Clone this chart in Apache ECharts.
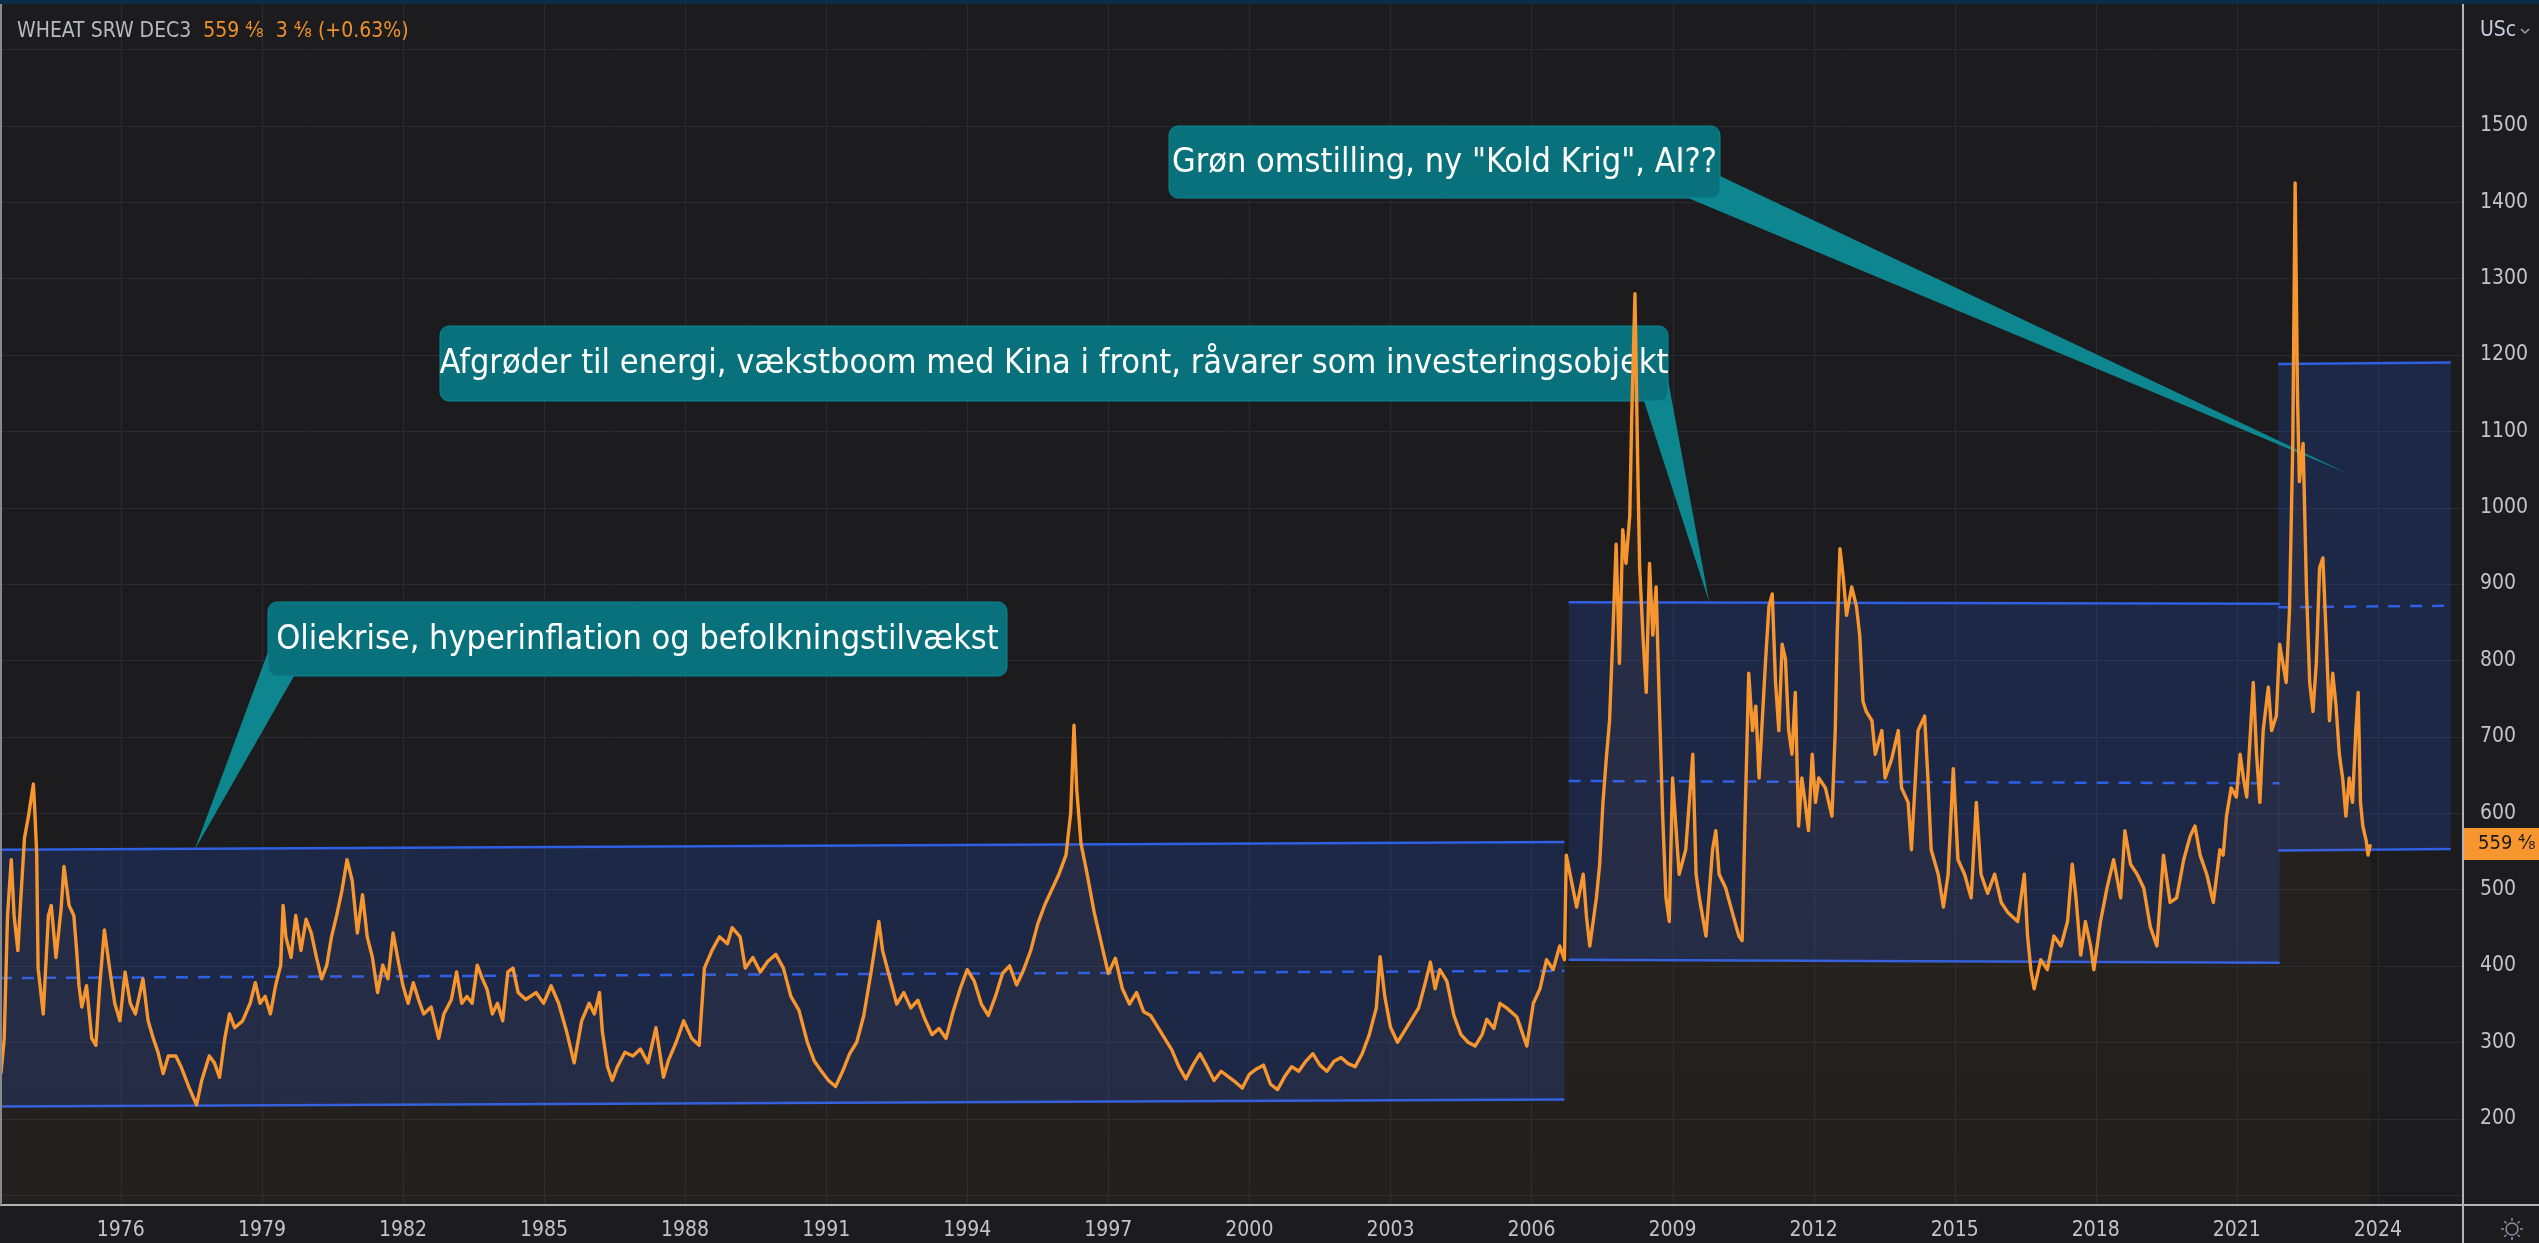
<!DOCTYPE html>
<html>
<head>
<meta charset="utf-8">
<title>WHEAT SRW DEC3</title>
<script src="https://cdn.jsdelivr.net/npm/echarts@6/dist/echarts.min.js"></script>
<style>
  html, body { margin: 0; padding: 0; background: #1c1c1e; }
  #chart { width: 2539px; height: 1243px; }
</style>
</head>
<body>
<div id="chart"></div>
<script>
// akse-ticks
const yearTicks = [1976, 1979, 1982, 1985, 1988, 1991, 1994, 1997, 2000, 2003, 2006, 2009, 2012, 2015, 2018, 2021, 2024];
const priceTicks = [200, 300, 400, 500, 600, 700, 800, 900, 1000, 1100, 1200, 1300, 1400, 1500];
const gridPrices = [100, 200, 300, 400, 500, 600, 700, 800, 900, 1000, 1100, 1200, 1300, 1400, 1500, 1600];

// hvedepris (USc): [år, pris]
const wheat1973to1990 = [
  [1973.45,259],[1973.52,305],[1973.59,466],[1973.67,539],[1973.73,466],[1973.81,420],[1973.86,475],[1973.95,567],
  [1974.03,594],[1974.14,638],[1974.17,603],[1974.21,548],[1974.24,397],[1974.35,337],[1974.46,466],[1974.52,479],
  [1974.62,411],[1974.73,475],[1974.79,530],[1974.90,479],[1975.00,466],[1975.06,420],[1975.11,374],[1975.17,346],
  [1975.27,374],[1975.38,305],[1975.47,296],[1975.55,374],[1975.65,447],[1975.76,397],[1975.87,351],[1975.98,328],
  [1976.09,392],[1976.20,351],[1976.31,337],[1976.47,383],[1976.58,328],[1976.69,305],[1976.79,287],[1976.90,259],
  [1977.01,282],[1977.17,282],[1977.28,268],[1977.45,241],[1977.61,218],[1977.72,250],[1977.88,282],[1977.99,273],
  [1978.10,254],[1978.21,305],[1978.31,337],[1978.42,319],[1978.59,328],[1978.75,351],[1978.86,378],[1978.96,351],
  [1979.07,360],[1979.18,337],[1979.29,374],[1979.40,401],[1979.45,479],[1979.51,438],[1979.62,411],[1979.72,466],
  [1979.83,420],[1979.94,461],[1980.05,443],[1980.16,411],[1980.27,383],[1980.38,401],[1980.48,438],[1980.59,466],
  [1980.70,498],[1980.81,539],[1980.92,512],[1981.03,443],[1981.14,493],[1981.24,438],[1981.35,411],[1981.46,365],
  [1981.57,401],[1981.68,383],[1981.79,443],[1981.90,406],[1982.00,374],[1982.11,351],[1982.22,378],[1982.33,356],
  [1982.44,337],[1982.60,346],[1982.76,305],[1982.87,337],[1983.03,356],[1983.14,392],[1983.25,351],[1983.36,360],
  [1983.47,351],[1983.58,401],[1983.69,383],[1983.79,369],[1983.90,337],[1984.01,351],[1984.12,328],[1984.23,392],
  [1984.34,397],[1984.45,365],[1984.61,356],[1984.83,365],[1984.99,351],[1985.15,374],[1985.31,351],[1985.48,314],
  [1985.64,273],[1985.80,328],[1985.96,351],[1986.07,337],[1986.18,365],[1986.24,314],[1986.35,268],[1986.45,250],
  [1986.56,268],[1986.72,287],[1986.89,282],[1987.05,291],[1987.21,273],[1987.38,319],[1987.54,254],[1987.65,277],
  [1987.81,300],[1987.97,328],[1988.14,305],[1988.30,296],[1988.41,397],[1988.57,420],[1988.73,438],[1988.90,429],
  [1989.00,450],[1989.17,438],[1989.28,397],[1989.44,411],[1989.60,392],[1989.76,406],[1989.93,415],[1990.09,397],
  [1990.25,360],[1990.42,342]
];
const wheat1990to2005 = [
  [1990.60,300],[1990.75,275],[1990.90,262],[1991.05,250],[1991.20,242],[1991.35,262],[1991.50,285],[1991.65,300],
  [1991.80,335],[1991.95,390],[1992.05,430],[1992.12,458],[1992.20,420],[1992.35,385],[1992.50,350],[1992.65,365],
  [1992.80,345],[1992.95,355],[1993.10,330],[1993.25,310],[1993.40,318],[1993.55,305],[1993.70,340],[1993.85,370],
  [1994.00,395],[1994.15,380],[1994.30,350],[1994.45,335],[1994.60,360],[1994.75,390],[1994.90,400],[1995.05,375],
  [1995.20,395],[1995.35,420],[1995.50,455],[1995.65,480],[1995.80,500],[1995.95,520],[1996.10,545],[1996.20,600],
  [1996.27,715],[1996.33,630],[1996.42,560],[1996.55,520],[1996.70,470],[1996.85,430],[1997.00,390],[1997.15,410],
  [1997.30,370],[1997.45,350],[1997.60,365],[1997.75,340],[1997.90,335],[1998.05,320],[1998.20,305],[1998.35,290],
  [1998.50,268],[1998.65,252],[1998.80,270],[1998.95,285],[1999.10,268],[1999.25,250],[1999.40,262],[1999.55,255],
  [1999.70,248],[1999.85,240],[2000.00,258],[2000.15,265],[2000.30,270],[2000.45,245],[2000.60,238],[2000.75,255],
  [2000.90,268],[2001.05,262],[2001.20,275],[2001.35,285],[2001.50,270],[2001.65,262],[2001.80,275],[2001.95,280],
  [2002.10,272],[2002.25,268],[2002.40,285],[2002.55,310],[2002.70,345],[2002.78,412],[2002.88,360],[2003.00,320],
  [2003.15,300],[2003.30,315],[2003.45,330],[2003.60,345],[2003.75,380],[2003.85,405],[2003.95,370],[2004.05,395],
  [2004.20,380],[2004.35,335],[2004.50,310],[2004.65,300],[2004.80,295],[2004.95,310],[2005.05,330],[2005.20,318]
];
const wheat2005to2023 = [
  [2005.33,351],[2005.47,345],[2005.69,333],[2005.90,295],[2006.04,351],[2006.18,370],[2006.32,408],[2006.46,395],
  [2006.60,426],[2006.70,408],[2006.74,545],[2006.82,520],[2006.96,477],[2007.10,520],[2007.17,464],[2007.24,426],
  [2007.38,489],[2007.45,533],[2007.52,614],[2007.59,671],[2007.66,721],[2007.73,833],[2007.80,952],[2007.87,796],
  [2007.94,971],[2008.01,927],[2008.09,990],[2008.13,1115],[2008.20,1280],[2008.26,1053],[2008.30,921],[2008.37,833],
  [2008.44,758],[2008.51,927],[2008.58,833],[2008.65,896],[2008.72,740],[2008.79,596],[2008.86,489],[2008.93,458],
  [2009.00,646],[2009.07,583],[2009.14,520],[2009.28,552],[2009.43,677],[2009.50,520],[2009.57,489],[2009.71,439],
  [2009.85,552],[2009.92,577],[2009.99,520],[2010.13,502],[2010.27,470],[2010.41,439],[2010.48,433],[2010.55,614],
  [2010.62,783],[2010.70,708],[2010.77,740],[2010.84,646],[2010.98,802],[2011.05,871],[2011.12,887],[2011.19,771],
  [2011.26,708],[2011.33,821],[2011.40,802],[2011.47,708],[2011.54,677],[2011.61,758],[2011.68,583],[2011.75,646],
  [2011.82,614],[2011.89,577],[2011.97,677],[2012.04,614],[2012.11,646],[2012.25,633],[2012.39,596],[2012.46,708],
  [2012.50,833],[2012.56,946],[2012.63,909],[2012.70,859],[2012.81,896],[2012.91,871],[2012.98,833],[2013.05,746],
  [2013.12,733],[2013.24,721],[2013.31,677],[2013.45,708],[2013.52,646],[2013.66,671],[2013.80,708],[2013.87,633],
  [2014.01,614],[2014.08,552],[2014.22,708],[2014.36,727],[2014.43,646],[2014.50,552],[2014.65,520],[2014.76,477],
  [2014.86,520],[2014.97,658],[2015.07,539],[2015.21,520],[2015.35,489],[2015.46,614],[2015.56,520],[2015.70,495],
  [2015.85,520],[2015.99,483],[2016.13,470],[2016.34,458],[2016.48,520],[2016.55,439],[2016.62,395],[2016.69,370],
  [2016.83,408],[2016.97,395],[2017.11,439],[2017.26,426],[2017.40,458],[2017.50,533],[2017.58,489],[2017.68,414],
  [2017.78,458],[2017.89,426],[2017.96,395],[2018.10,458],[2018.24,502],[2018.38,539],[2018.53,489],[2018.62,577],
  [2018.74,533],[2018.88,520],[2019.02,502],[2019.16,451],[2019.30,426],[2019.44,545],[2019.58,483],[2019.72,489],
  [2019.87,539],[2020.01,570],[2020.11,583],[2020.22,545],[2020.36,520],[2020.50,483],[2020.64,552],[2020.71,545],
  [2020.78,596],[2020.88,633],[2020.99,621],[2021.07,677],[2021.14,646],[2021.21,621],[2021.35,771],[2021.42,677],
  [2021.49,614],[2021.56,708],[2021.67,765],[2021.74,708],[2021.84,727],[2021.91,821],[2021.98,796],[2022.05,771],
  [2022.12,865],[2022.19,1084],[2022.24,1425],[2022.29,1147],[2022.33,1034],[2022.41,1084],[2022.48,896],[2022.55,771],
  [2022.62,733],[2022.69,796],[2022.76,921],[2022.83,934],[2022.90,833],[2022.97,721],[2023.04,783],[2023.11,740],
  [2023.18,677],[2023.25,646],[2023.32,596],[2023.39,646],[2023.46,614],[2023.53,708],[2023.58,758],[2023.63,614],
  [2023.68,583],[2023.75,564],[2023.79,545],[2023.84,559]
];

// prisskanaler (tegnet ind på grafen)
const channelFrom = [1973.43, 2006.79, 2021.88];
const channelTo = [2006.70, 2021.91, 2025.55];
const channelTopFrom = [552, 876, 1188];
const channelTopTo = [562, 874, 1190];
const channelLowFrom = [216, 408, 551];
const channelLowTo = [225, 404, 553];

// kommentarer og hvor de peger hen
const calloutTexts = [
  'Oliekrise, hyperinflation og befolkningstilvækst',
  'Afgrøder til energi, vækstboom med Kina i front, råvarer som investeringsobjekt',
  'Grøn omstilling, ny "Kold Krig", AI??'
];
const calloutTips = [[1977.57, 552], [2009.78, 876], [2023.35, 1045]];

const symbolName = 'WHEAT SRW DEC3';
const quoteText = '559 ⁴⁄₈  3 ⁴⁄₈ (+0.63%)';
const lastPrice = 559.5;
const lastLabel = '559 ⁴⁄₈';

const wheat = wheat1973to1990.concat(wheat1990to2005, wheat2005to2023);
const channels = channelFrom.map((f, i) => [f, channelTo[i], channelTopFrom[i], channelTopTo[i], channelLowFrom[i], channelLowTo[i]]);

const narrow = "'Liberation Sans Narrow', 'DejaVu Sans Condensed', 'DejaVu Sans', sans-serif";
const orange = '#f7952e';
const blue = '#2f5fe3';

function renderGridX(params, api) {
  const p = api.coord([api.value(0), api.value(1)]);
  const cs = params.coordSys;
  const x = Math.round(p[0]) + 0.5;
  return { type: 'line', silent: true, shape: { x1: x, y1: cs.y, x2: x, y2: cs.y + cs.height }, style: { stroke: '#2a2a30', lineWidth: 1 } };
}
function renderGridY(params, api) {
  const p = api.coord([api.value(0), api.value(1)]);
  const cs = params.coordSys;
  const y = Math.round(p[1]) + 0.5;
  return { type: 'line', silent: true, shape: { x1: cs.x, y1: y, x2: cs.x + cs.width, y2: y }, style: { stroke: '#2a2a30', lineWidth: 1 } };
}
function renderChannel(params, api) {
  const a = api.coord([api.value(0), api.value(2)]);
  const b = api.coord([api.value(1), api.value(3)]);
  const c = api.coord([api.value(1), api.value(5)]);
  const d = api.coord([api.value(0), api.value(4)]);
  const m1 = [(a[0] + d[0]) / 2, (a[1] + d[1]) / 2];
  const m2 = [(b[0] + c[0]) / 2, (b[1] + c[1]) / 2];
  return {
    type: 'group',
    children: [
      { type: 'polygon', shape: { points: [a, b, c, d] }, style: { fill: 'rgba(41,98,255,0.18)' } },
      { type: 'line', shape: { x1: a[0], y1: a[1], x2: b[0], y2: b[1] }, style: { stroke: blue, lineWidth: 2.5 } },
      { type: 'line', shape: { x1: d[0], y1: d[1], x2: c[0], y2: c[1] }, style: { stroke: blue, lineWidth: 2.5 } },
      { type: 'line', shape: { x1: m1[0], y1: m1[1], x2: m2[0], y2: m2[1] }, style: { stroke: blue, lineWidth: 2.5, lineDash: [12, 10] } }
    ]
  };
}

const chart = echarts.init(document.getElementById('chart'));

let option = {
  backgroundColor: '#1c1c1e',
  animation: false,
  grid: { left: 0, right: 76, top: 4, bottom: 38 },
  xAxis: {
    type: 'value',
    min: 1973.43,
    max: 2025.81,
    axisLine: { show: false },
    axisTick: { show: false, customValues: yearTicks },
    axisLabel: { customValues: yearTicks, color: '#c4c4c7', fontFamily: narrow, fontSize: 21, margin: 15, formatter: v => String(v) },
    splitLine: { show: false }
  },
  yAxis: {
    type: 'value',
    position: 'right',
    min: 86.9,
    max: 1659.3,
    axisLine: { show: false },
    axisTick: { show: false, customValues: priceTicks },
    axisLabel: { customValues: priceTicks, color: '#c4c4c7', fontFamily: narrow, fontSize: 21, margin: 17, align: 'left', formatter: v => String(v) },
    splitLine: { show: false }
  },
  series: [
    {
      type: 'custom', name: 'gridX', z: 0, silent: true,
      data: yearTicks.map(y => [y, 1000]), encode: { x: 0, y: 1 },
      renderItem: renderGridX
    },
    {
      type: 'custom', name: 'gridY', z: 0, silent: true,
      data: gridPrices.map(v => [2000, v]), encode: { x: 0, y: 1 },
      renderItem: renderGridY
    },
    {
      type: 'custom', name: 'kanaler', z: 1, silent: true,
      data: channels, encode: { x: [0, 1], y: [2, 3, 4, 5] },
      renderItem: renderChannel
    },
    {
      type: 'line', name: symbolName, z: 5,
      data: wheat,
      showSymbol: false,
      silent: true,
      lineStyle: { color: orange, width: 3.4, join: 'round' },
      areaStyle: {
        color: new echarts.graphic.LinearGradient(0, 0, 0, 1, [
          { offset: 0, color: 'rgba(247,149,46,0.09)' },
          { offset: 1, color: 'rgba(247,149,46,0.045)' }
        ])
      }
    }
  ]
};

chart.setOption(option);

// kommentarbokse (layout i pixels, spidsen i dataværdier)
const boxes = [
  { x: 268, y: 602, w: 739, h: 74, baseA: [268, 652], baseB: [294, 676] },
  { x: 440, y: 326, w: 1228, h: 75, baseA: [1644, 401], baseB: [1668, 380] },
  { x: 1169, y: 126, w: 551, h: 72, baseA: [1688, 198], baseB: [1720, 176] }
];
const tipPx = calloutTips.map(p => chart.convertToPixel({ gridIndex: 0 }, p));
const lastY = chart.convertToPixel({ yAxisIndex: 0 }, lastPrice);

const graphics = [];
boxes.forEach((b, i) => {
  graphics.push({
    type: 'polygon', z: 3, silent: true,
    shape: { points: [b.baseA, tipPx[i], b.baseB] },
    style: { fill: '#0d8690' }
  });
  graphics.push({
    type: 'rect', z: 3, silent: true,
    shape: { x: b.x, y: b.y, width: b.w, height: b.h, r: 9 },
    style: { fill: '#08717c', stroke: '#0a8893', lineWidth: 1 }
  });
  graphics.push({
    type: 'text', z: 3, silent: true,
    x: b.x + b.w / 2, y: b.y + b.h / 2 + 1,
    style: { text: calloutTexts[i], fill: '#ffffff', font: '34px ' + narrow, textAlign: 'center', textVerticalAlign: 'middle' }
  });
});

// solikon nederst til højre
const gear = [];
for (let k = 0; k < 8; k++) {
  const ang = k * Math.PI / 4;
  gear.push({ type: 'line', z: 10, silent: true,
    shape: { x1: 2512 + Math.cos(ang) * 8, y1: 1229 + Math.sin(ang) * 8, x2: 2512 + Math.cos(ang) * 11, y2: 1229 + Math.sin(ang) * 11 },
    style: { stroke: '#8c8f99', lineWidth: 1.5 } });
}

// ramme og akselinjer
graphics.push(
  { type: 'rect', z: 10, silent: true, shape: { x: 0, y: 0, width: 2539, height: 4 }, style: { fill: '#0d2c4a' } },
  { type: 'line', z: 10, silent: true, shape: { x1: 0, y1: 1205, x2: 2539, y2: 1205 }, style: { stroke: '#b4b4b8', lineWidth: 2 } },
  { type: 'line', z: 10, silent: true, shape: { x1: 2463, y1: 4, x2: 2463, y2: 1243 }, style: { stroke: '#b4b4b8', lineWidth: 2 } },
  { type: 'line', z: 10, silent: true, shape: { x1: 1, y1: 4, x2: 1, y2: 1205 }, style: { stroke: '#8a8a8e', lineWidth: 2 } },
  // overskrift
  {
    type: 'text', z: 10, silent: true, x: 17, y: 32,
    style: {
      text: '{a|' + symbolName + '}  {b|' + quoteText + '}',
      font: '21px ' + narrow, textVerticalAlign: 'middle',
      rich: {
        a: { fill: '#b8b9bf', font: '21px ' + narrow },
        b: { fill: '#f0912c', font: '21px ' + narrow }
      }
    }
  },
  // valuta
  { type: 'text', z: 10, silent: true, x: 2480, y: 31, style: { text: 'USc', fill: '#c8cde0', font: '21px ' + narrow, textVerticalAlign: 'middle' } },
  { type: 'polyline', z: 10, silent: true, shape: { points: [[2521, 29], [2525, 33], [2529, 29]] }, style: { stroke: '#9ea2ad', lineWidth: 1.5, fill: null } },
  // sidste pris
  { type: 'rect', z: 10, silent: true, shape: { x: 2464, y: lastY - 16, width: 75, height: 32 }, style: { fill: '#f7962f' } },
  { type: 'text', z: 11, silent: true, x: 2478, y: lastY, style: { text: lastLabel, fill: '#1a1a1a', font: '20px ' + narrow, textVerticalAlign: 'middle' } },
  // indstillinger
  { type: 'circle', z: 10, silent: true, shape: { cx: 2512, cy: 1229, r: 6 }, style: { stroke: '#8c8f99', lineWidth: 1.5, fill: null } }
);

chart.setOption({ graphic: { elements: graphics.concat(gear) } });
</script>
</body>
</html>
